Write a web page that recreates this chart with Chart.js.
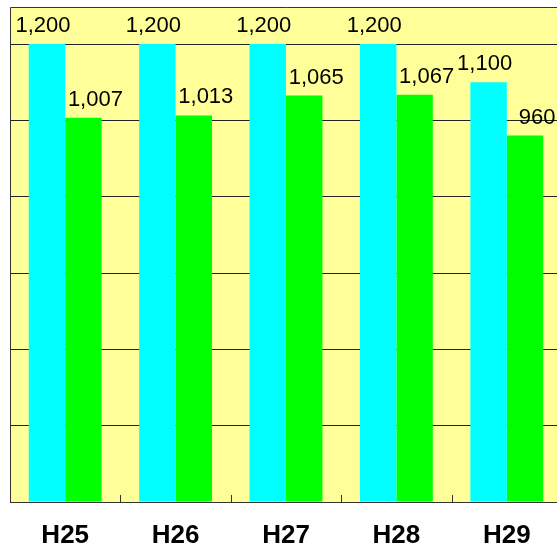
<!DOCTYPE html>
<html>
<head>
<meta charset="utf-8">
<script src="https://cdn.jsdelivr.net/npm/chart.js@4.4.1/dist/chart.umd.min.js"></script>
<style>
  html, body { margin: 0; padding: 0; background: #ffffff; overflow: hidden; }
  canvas { display: block; }
</style>
</head>
<body>
<canvas id="myChart" width="562" height="546"></canvas>
<script>
// data
var years = ["H25", "H26", "H27", "H28", "H29"];
var planValues = [1200, 1200, 1200, 1200, 1100];
var actualValues = [1007, 1013, 1065, 1067, 960];
var gridTicks = [0, 200, 400, 600, 800, 1000, 1200];

// plot background, frame, inner ticks and category names
var framePlugin = {
    id: "frame",
    beforeDraw: function (chart) {
        var a = chart.chartArea, c = chart.ctx;
        c.save();
        c.fillStyle = "#ffff99";
        c.fillRect(a.left, a.top, a.right - a.left, a.bottom - a.top);
        c.restore();
    },
    afterDatasetsDraw: function (chart) {
        var a = chart.chartArea, c = chart.ctx;
        var xs = chart.scales.x;
        c.save();
        c.strokeStyle = "#333333";
        c.lineWidth = 1;
        c.beginPath();
        c.moveTo(a.left + 0.5, a.bottom + 0.5);
        c.lineTo(a.left + 0.5, a.top + 0.5);
        c.lineTo(a.right, a.top + 0.5);
        c.moveTo(a.left, a.bottom + 0.5);
        c.lineTo(a.right, a.bottom + 0.5);
        for (var i = 1; i < years.length; i++) {
            var x = Math.round((xs.getPixelForTick(i - 1) + xs.getPixelForTick(i)) / 2) + 0.5;
            c.moveTo(x, a.bottom);
            c.lineTo(x, a.bottom - 7);
        }
        c.stroke();

        c.fillStyle = "#000000";
        c.font = "bold 26px 'Liberation Sans', Arial, sans-serif";
        c.textAlign = "center";
        c.textBaseline = "alphabetic";
        for (var j = 0; j < years.length; j++) {
            c.fillText(years[j], xs.getPixelForTick(j), a.bottom + 41);
        }
        c.restore();
    }
};

// value labels over bars
var labelPlugin = {
    id: "valueLabels",
    afterDatasetsDraw: function (chart) {
        var c = chart.ctx;
        c.save();
        c.font = "22px 'Liberation Sans', Arial, sans-serif";
        c.fillStyle = "#000000";
        c.textAlign = "center";
        c.textBaseline = "alphabetic";
        chart.data.datasets.forEach(function (ds, di) {
            var meta = chart.getDatasetMeta(di);
            var dx = di == 0 ? -4 : 12;
            meta.data.forEach(function (bar, i) {
                c.fillText(ds.data[i].toLocaleString("en-US"), bar.x + dx, bar.y - 12);
            });
        });
        c.restore();
    }
};

var ctx = document.getElementById("myChart");
var chart = new Chart(ctx, {
    type: "bar",
    data: {
        labels: years,
        datasets: [
            {
                label: "plan",
                data: planValues,
                backgroundColor: "#00ffff",
                borderWidth: 0,
                categoryPercentage: 0.66,
                barPercentage: 1.0
            },
            {
                label: "actual",
                data: actualValues,
                backgroundColor: "#00ff00",
                borderWidth: 0,
                categoryPercentage: 0.66,
                barPercentage: 1.0
            }
        ]
    },
    options: {
        responsive: false,
        animation: false,
        layout: { padding: { left: 10, top: 7, right: 0, bottom: 44 } },
        plugins: {
            legend: { display: false },
            tooltip: { enabled: false }
        },
        scales: {
            x: {
                display: false
            },
            y: {
                min: 0,
                max: 1297,
                afterBuildTicks: function (axis) {
                    axis.ticks = gridTicks.map(function (v) { return { value: v }; });
                },
                grid: { color: "#222222", lineWidth: 1, drawTicks: false },
                border: { display: false },
                ticks: { display: false }
            }
        }
    },
    plugins: [framePlugin, labelPlugin]
});
</script>
</body>
</html>
